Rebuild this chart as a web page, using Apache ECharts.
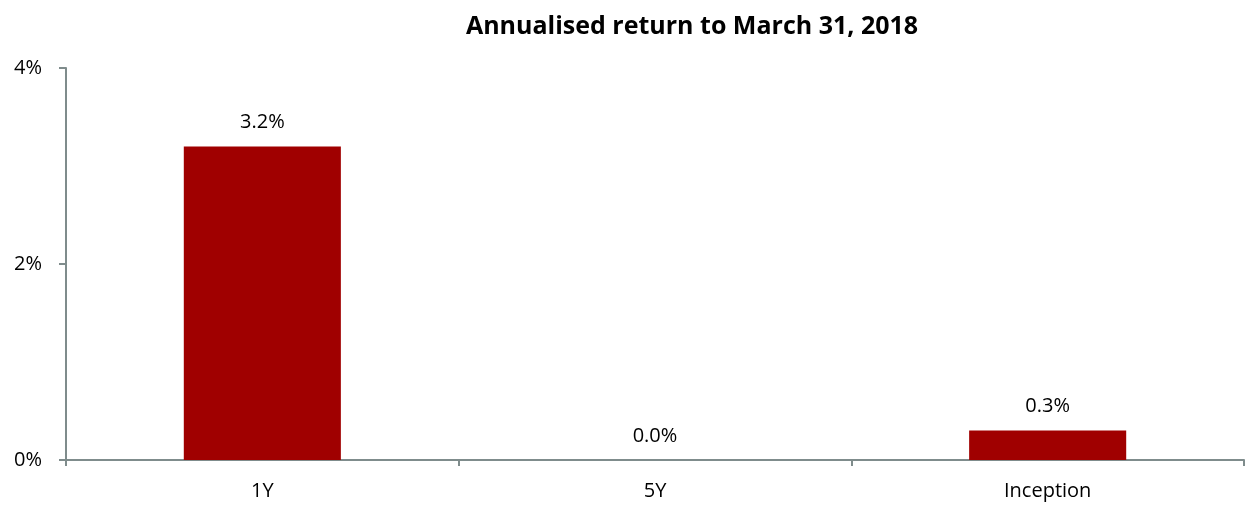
<!DOCTYPE html>
<html>
<head>
<meta charset="utf-8">
<script src="https://cdn.jsdelivr.net/npm/echarts@6/dist/echarts.min.js"></script>
<style>
  html, body { margin: 0; padding: 0; background: #fff; }
  #chart { width: 1249px; height: 506px; }
</style>
</head>
<body>
<div id="chart"></div>
<script>
const categories = ['1Y', '5Y', 'Inception'];
const returns = [3.2, 0.0, 0.3];
const yTicks = [0, 2, 4];

const chart = echarts.init(document.getElementById('chart'));
const axisColor = '#7f8c8c';
const font = 'Open Sans, Liberation Sans, sans-serif';

chart.setOption({
  animation: false,
  backgroundColor: '#fff',
  title: {
    text: 'Annualised return to March 31, 2018',
    left: 687,
    top: 9,
    textAlign: 'center',
    textStyle: { fontFamily: font, fontSize: 25, fontWeight: 'bold', color: '#000' }
  },
  grid: { left: 66, right: 5, top: 68, bottom: 46, containLabel: false },
  xAxis: {
    type: 'category',
    data: categories,
    axisLine: { lineStyle: { color: axisColor, width: 2 } },
    axisTick: { show: true, alignWithLabel: false, length: 6, lineStyle: { color: axisColor, width: 2 } },
    axisLabel: { margin: 21, fontFamily: font, fontSize: 20, color: '#000' }
  },
  yAxis: {
    type: 'value',
    min: 0,
    max: 4,
    interval: 2,
    axisLine: { show: true, lineStyle: { color: axisColor, width: 2 } },
    axisTick: { show: true, length: 7, lineStyle: { color: axisColor, width: 2 } },
    splitLine: { show: false },
    axisLabel: {
      margin: 24,
      fontFamily: font, fontSize: 20, color: '#000',
      formatter: v => yTicks.includes(v) ? v + '%' : ''
    }
  },
  series: [{
    type: 'bar',
    data: returns,
    barWidth: '40%',
    itemStyle: { color: '#a00000' },
    label: {
      show: true,
      position: 'top',
      distance: 14,
      fontFamily: font, fontSize: 20, color: '#000',
      formatter: p => p.value.toFixed(1) + '%'
    }
  }]
});
</script>
</body>
</html>
